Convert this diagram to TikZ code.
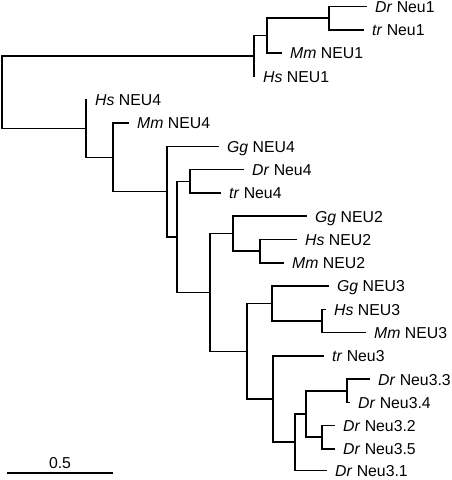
\documentclass[tikz,border=0pt]{standalone}
\usepackage{fontspec}
\setmainfont{Liberation Sans}
\begin{document}
\begin{tikzpicture}[x=1pt,y=-1pt,
  branch/.style={line width=1.5pt,line cap=rect},
  tiplabel/.style={anchor=base west,inner sep=0pt,xshift=9pt,yshift=-5.8pt,
    font=\fontsize{15.8}{18}\selectfont},
  scalelabel/.style={inner sep=0pt,font=\fontsize{15.8}{18}\selectfont}]
\useasboundingbox (0,0) rectangle (452,480);
% internal nodes
\coordinate (root) at (2,92.25);
\coordinate (n1)  at (254,56);
\coordinate (n1a) at (267,35.6);
\coordinate (n1b) at (329,18.15);
\coordinate (n4)  at (86,128.5);
\coordinate (n5)  at (113,157.3);
\coordinate (n6)  at (167,191.6);
\coordinate (n7)  at (177,237);
\coordinate (n8)  at (190,181.25);
\coordinate (n9)  at (210,292.5);
\coordinate (n10) at (233,233.7);
\coordinate (n11) at (260,251.2);
\coordinate (n12) at (247,351.3);
\coordinate (n13) at (272,303.6);
\coordinate (n14) at (322,321);
\coordinate (n15) at (273,399.1);
\coordinate (n16) at (295,442.2);
\coordinate (n17) at (306,414);
\coordinate (n18) at (347,390.8);
\coordinate (n19) at (322,437.2);
% tips
\coordinate (tDrNeu1) at (366,6.5);
\coordinate (ttrNeu1) at (363,29.8);
\coordinate (tMmNEU1) at (281,53.1);
\coordinate (tHsNEU1) at (254,76.4);
\coordinate (tHsNEU4) at (86,99.7);
\coordinate (tMmNEU4) at (128,123);
\coordinate (tGgNEU4) at (218,146.3);
\coordinate (tDrNeu4) at (243,169.6);
\coordinate (ttrNeu4) at (220,192.9);
\coordinate (tGgNEU2) at (306,216.2);
\coordinate (tHsNEU2) at (296,239.5);
\coordinate (tMmNEU2) at (283,262.8);
\coordinate (tGgNEU3) at (328,286.1);
\coordinate (tHsNEU3) at (325,309.4);
\coordinate (tMmNEU3) at (365,332.7);
\coordinate (ttrNeu3) at (323,356);
\coordinate (tDrA) at (369,379.2);
\coordinate (tDrB) at (349,402.4);
\coordinate (tDrC) at (334,425.6);
\coordinate (tDrD) at (334,448.8);
\coordinate (tDrE) at (326,470.4);
% branches
\draw[branch] (root) |- (n1);
\draw[branch] (root) |- (n4);
\draw[branch] (n1) |- (n1a);
\draw[branch] (n1) |- (tHsNEU1);
\draw[branch] (n1a) |- (n1b);
\draw[branch] (n1a) |- (tMmNEU1);
\draw[branch] (n1b) |- (tDrNeu1);
\draw[branch] (n1b) |- (ttrNeu1);
\draw[branch] (n4) |- (tHsNEU4);
\draw[branch] (n4) |- (n5);
\draw[branch] (n5) |- (tMmNEU4);
\draw[branch] (n5) |- (n6);
\draw[branch] (n6) |- (tGgNEU4);
\draw[branch] (n6) |- (n7);
\draw[branch] (n7) |- (n8);
\draw[branch] (n7) |- (n9);
\draw[branch] (n8) |- (tDrNeu4);
\draw[branch] (n8) |- (ttrNeu4);
\draw[branch] (n9) |- (n10);
\draw[branch] (n9) |- (n12);
\draw[branch] (n10) |- (tGgNEU2);
\draw[branch] (n10) |- (n11);
\draw[branch] (n11) |- (tHsNEU2);
\draw[branch] (n11) |- (tMmNEU2);
\draw[branch] (n12) |- (n13);
\draw[branch] (n12) |- (n15);
\draw[branch] (n13) |- (tGgNEU3);
\draw[branch] (n13) |- (n14);
\draw[branch] (n14) |- (tHsNEU3);
\draw[branch] (n14) |- (tMmNEU3);
\draw[branch] (n15) |- (ttrNeu3);
\draw[branch] (n15) |- (n16);
\draw[branch] (n16) |- (n17);
\draw[branch] (n16) |- (tDrE);
\draw[branch] (n17) |- (n18);
\draw[branch] (n17) |- (n19);
\draw[branch] (n18) |- (tDrA);
\draw[branch] (n18) |- (tDrB);
\draw[branch] (n19) |- (tDrC);
\draw[branch] (n19) |- (tDrD);
% labels
\node[tiplabel] (lDrNeu1) at (tDrNeu1) {\textit{Dr} Neu1};
\node[tiplabel] (ltrNeu1) at (ttrNeu1) {\textit{tr} Neu1};
\node[tiplabel] (lMmNEU1) at (tMmNEU1) {\textit{Mm} NEU1};
\node[tiplabel] (lHsNEU1) at (tHsNEU1) {\textit{Hs} NEU1};
\node[tiplabel] (lHsNEU4) at (tHsNEU4) {\textit{Hs} NEU4};
\node[tiplabel] (lMmNEU4) at (tMmNEU4) {\textit{Mm} NEU4};
\node[tiplabel] (lGgNEU4) at (tGgNEU4) {\textit{Gg} NEU4};
\node[tiplabel] (lDrNeu4) at (tDrNeu4) {\textit{Dr} Neu4};
\node[tiplabel] (ltrNeu4) at (ttrNeu4) {\textit{tr} Neu4};
\node[tiplabel] (lGgNEU2) at (tGgNEU2) {\textit{Gg} NEU2};
\node[tiplabel] (lHsNEU2) at (tHsNEU2) {\textit{Hs} NEU2};
\node[tiplabel] (lMmNEU2) at (tMmNEU2) {\textit{Mm} NEU2};
\node[tiplabel] (lGgNEU3) at (tGgNEU3) {\textit{Gg} NEU3};
\node[tiplabel] (lHsNEU3) at (tHsNEU3) {\textit{Hs} NEU3};
\node[tiplabel] (lMmNEU3) at (tMmNEU3) {\textit{Mm} NEU3};
\node[tiplabel] (ltrNeu3) at (ttrNeu3) {\textit{tr} Neu3};
\node[tiplabel] (lDrA) at (tDrA) {\textit{Dr} Neu3.3};
\node[tiplabel] (lDrB) at (tDrB) {\textit{Dr} Neu3.4};
\node[tiplabel] (lDrC) at (tDrC) {\textit{Dr} Neu3.2};
\node[tiplabel] (lDrD) at (tDrD) {\textit{Dr} Neu3.5};
\node[tiplabel] (lDrE) at (tDrE) {\textit{Dr} Neu3.1};
% scale bar
\coordinate (sb1) at (8,473);
\coordinate (sb2) at (112,473);
\draw[branch] (sb1) -- (sb2);
\node[scalelabel,anchor=base] (sbl) at (60,468) {0.5};
\end{tikzpicture}
\end{document}
